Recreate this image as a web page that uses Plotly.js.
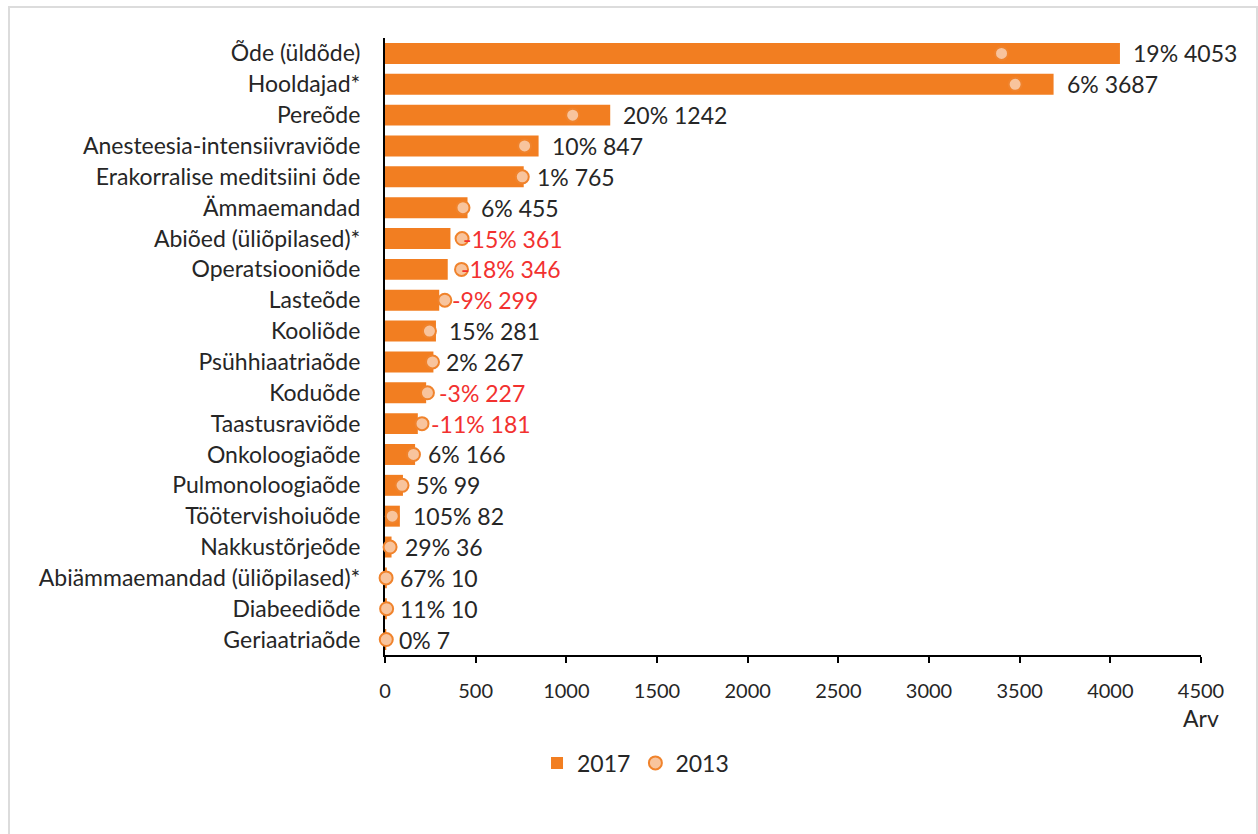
<!DOCTYPE html>
<html>
<head>
<meta charset="utf-8">
<script src="https://cdn.plot.ly/plotly-3.0.1.min.js"></script>
<style>
  html, body { margin: 0; padding: 0; background: #fff; }
  #chart { width: 1258px; height: 834px; }
  #frame { position: absolute; left: 8px; top: 6px; width: 1246px; height: 900px;
           border: 2px solid #dcdcdc; pointer-events: none; }
</style>
</head>
<body>
<div id="chart"></div>
<div id="frame"></div>
<script>
const categories = [
  "Õde (üldõde)", "Hooldajad*", "Pereõde", "Anesteesia-intensiivraviõde",
  "Erakorralise meditsiini õde", "Ämmaemandad", "Abiõed (üliõpilased)*",
  "Operatsiooniõde", "Lasteõde", "Kooliõde", "Psühhiaatriaõde", "Koduõde",
  "Taastusraviõde", "Onkoloogiaõde", "Pulmonoloogiaõde", "Töötervishoiuõde",
  "Nakkustõrjeõde", "Abiämmaemandad (üliõpilased)*", "Diabeediõde", "Geriaatriaõde"
];
const values2017 = [4053, 3687, 1242, 847, 765, 455, 361, 346, 299, 281, 267, 227, 181, 166, 99, 82, 36, 10, 10, 7];
const values2013 = [3400, 3475, 1035, 770, 757, 430, 425, 422, 330, 245, 262, 234, 204, 157, 94, 40, 28, 6, 9, 7];
const changeLabels = ["19%", "6%", "20%", "10%", "1%", "6%", "-15%", "-18%", "-9%", "15%", "2%", "-3%", "-11%", "6%", "5%", "105%", "29%", "67%", "11%", "0%"];
const xTicks = [0, 500, 1000, 1500, 2000, 2500, 3000, 3500, 4000, 4500];

const FONT = "Lato, 'Open Sans', sans-serif";
const BAR = "#F27E21";

const annotations = categories.map((c, i) => ({
  x: values2017[i], y: c, xref: "x", yref: "y",
  text: changeLabels[i] + " " + values2017[i],
  xanchor: "left", yanchor: "middle", xshift: 11, showarrow: false,
  font: { family: FONT, size: 23, color: changeLabels[i].startsWith("-") ? "#F2312F" : "#262626" }
}));
annotations.push({
  x: 1, xref: "paper", y: -0.102, yref: "paper", text: "Arv", showarrow: false,
  xanchor: "center", yanchor: "middle", font: { family: FONT, size: 23, color: "#262626" }
});

const traces = [
  {
    type: "bar", orientation: "h", name: "2017",
    x: values2017, y: categories,
    marker: { color: BAR }, hoverinfo: "x+y"
  },
  {
    type: "scatter", mode: "markers", name: "2013",
    x: values2013, y: categories, cliponaxis: false,
    marker: { symbol: "circle", size: 13, color: "#F8C49D", line: { color: "#F0832C", width: 2 } }
  }
];

const layout = {
  width: 1258, height: 834,
  margin: { l: 385, r: 57, t: 38, b: 179, autoexpand: false },
  paper_bgcolor: "#fff", plot_bgcolor: "#fff",
  font: { family: FONT, size: 18, color: "#262626" },
  bargap: 0.32,
  showlegend: true,
  legend: {
    orientation: "h", x: 0.307, xanchor: "center", y: -0.175, yanchor: "middle",
    font: { family: FONT, size: 23, color: "#262626" }, traceorder: "normal", itemwidth: 30
  },
  xaxis: {
    range: [0, 4500], tickvals: xTicks, ticktext: xTicks.map(String),
    showgrid: false, zeroline: false, showline: true, linecolor: "#000", linewidth: 2,
    ticks: "outside", ticklen: 6, tickwidth: 2, tickcolor: "#000",
    ticklabelstandoff: 11, tickangle: 0, automargin: false, layer: "below traces",
    tickfont: { family: FONT, size: 20, color: "#262626" }
  },
  yaxis: {
    type: "category", range: [19.5, -0.5], automargin: false, layer: "below traces",
    showgrid: false, zeroline: false, showline: true, linecolor: "#000", linewidth: 2,
    ticks: "", ticklabelstandoff: 18,
    tickfont: { family: FONT, size: 23, color: "#262626" }
  },
  annotations: annotations
};

Plotly.newPlot("chart", traces, layout, { displayModeBar: false, staticPlot: true });
</script>
</body>
</html>
